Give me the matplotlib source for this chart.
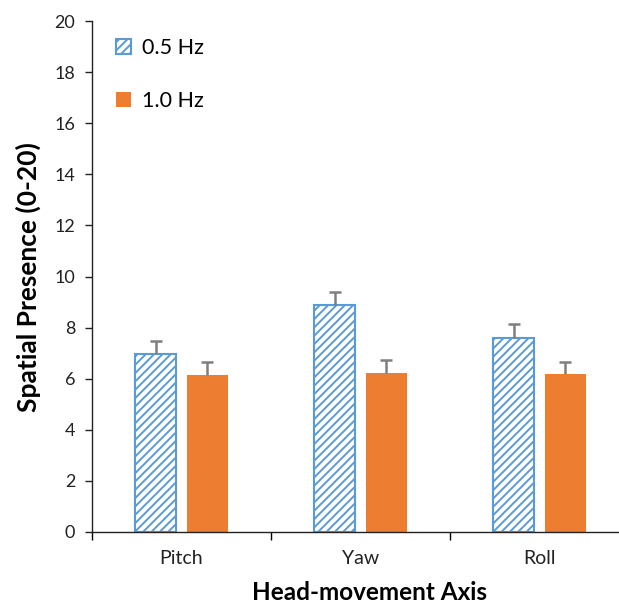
import matplotlib
matplotlib.use("Agg")
import matplotlib.pyplot as plt
import numpy as np

categories = ["Pitch", "Yaw", "Roll"]
series_labels = ["0.5 Hz", "1.0 Hz"]
vals_05 = [6.95, 8.88, 7.61]
err_05 = [0.52, 0.52, 0.52]
vals_10 = [6.13, 6.24, 6.18]
err_10 = [0.52, 0.48, 0.48]
yticks = [0, 2, 4, 6, 8, 10, 12, 14, 16, 18, 20]

plt.rcParams['font.family'] = ['Lato', 'DejaVu Sans']
plt.rcParams['hatch.linewidth'] = 1.4
plt.rcParams['hatch.color'] = '#5B9BD5'

W, H = 619, 603
fig = plt.figure(figsize=(W / 100, H / 100), dpi=100)
ax = fig.add_axes([92 / W, (H - 532) / H, (629 - 92) / W, 511 / H])

x = np.arange(len(categories))
bw = 0.229
off = 0.1425
blue = '#5B9BD5'
orange = '#ED7D31'
ecol = '#7F7F7F'

ax.bar(x - off, vals_05, bw, facecolor='white', edgecolor=blue, hatch='////',
       linewidth=1.5, label=series_labels[0], zorder=2)
ax.bar(x + off, vals_10, bw, color=orange, edgecolor=orange, linewidth=0,
       label=series_labels[1], zorder=2)

for xs, vs, es in [(x - off, vals_05, err_05), (x + off, vals_10, err_10)]:
    vs = np.array(vs)
    es = np.array(es)
    ax.vlines(xs, vs, vs + es, color=ecol, linewidth=1.8, zorder=3)
    ax.plot(xs, vs + es, linestyle='none', marker='_', markersize=9,
            markeredgewidth=1.8, color=ecol, zorder=3)

ax.set_xlim(-0.5, 2.5)
ax.set_ylim(0, 20)
ax.set_yticks(yticks)
ax.set_yticklabels([str(v) for v in yticks], fontsize=13)
ax.tick_params(axis='y', length=5, width=1, direction='out', pad=7, colors='#222222')

ax.set_xticks([-0.5, 0.5, 1.5, 2.5])
ax.set_xticklabels([])
ax.tick_params(axis='x', which='major', length=6, width=1, direction='out')
ax.set_xticks(x, minor=True)
ax.set_xticklabels(categories, minor=True, fontsize=14)
ax.tick_params(axis='x', which='minor', length=0, pad=13, colors='#222222')

for s in ['top', 'right']:
    ax.spines[s].set_visible(False)
for s in ['left', 'bottom']:
    ax.spines[s].set_color('#222222')
    ax.spines[s].set_linewidth(1.0)

fig.text(28 / W, 1 - 277 / H, "Spatial Presence (0-20)", fontsize=19, fontweight='bold',
         ha='center', va='center', rotation=90)
fig.text(370 / W, 1 - 593 / H, "Head-movement Axis", fontsize=17.5, fontweight='bold',
         ha='center', va='center')

leg = ax.legend(loc='upper left', bbox_to_anchor=(0.008, 1.004), frameon=False,
                fontsize=15.5, handlelength=0.7, handleheight=0.7,
                handletextpad=0.5, labelspacing=1.5)

fig.savefig("out.png", dpi=100)
